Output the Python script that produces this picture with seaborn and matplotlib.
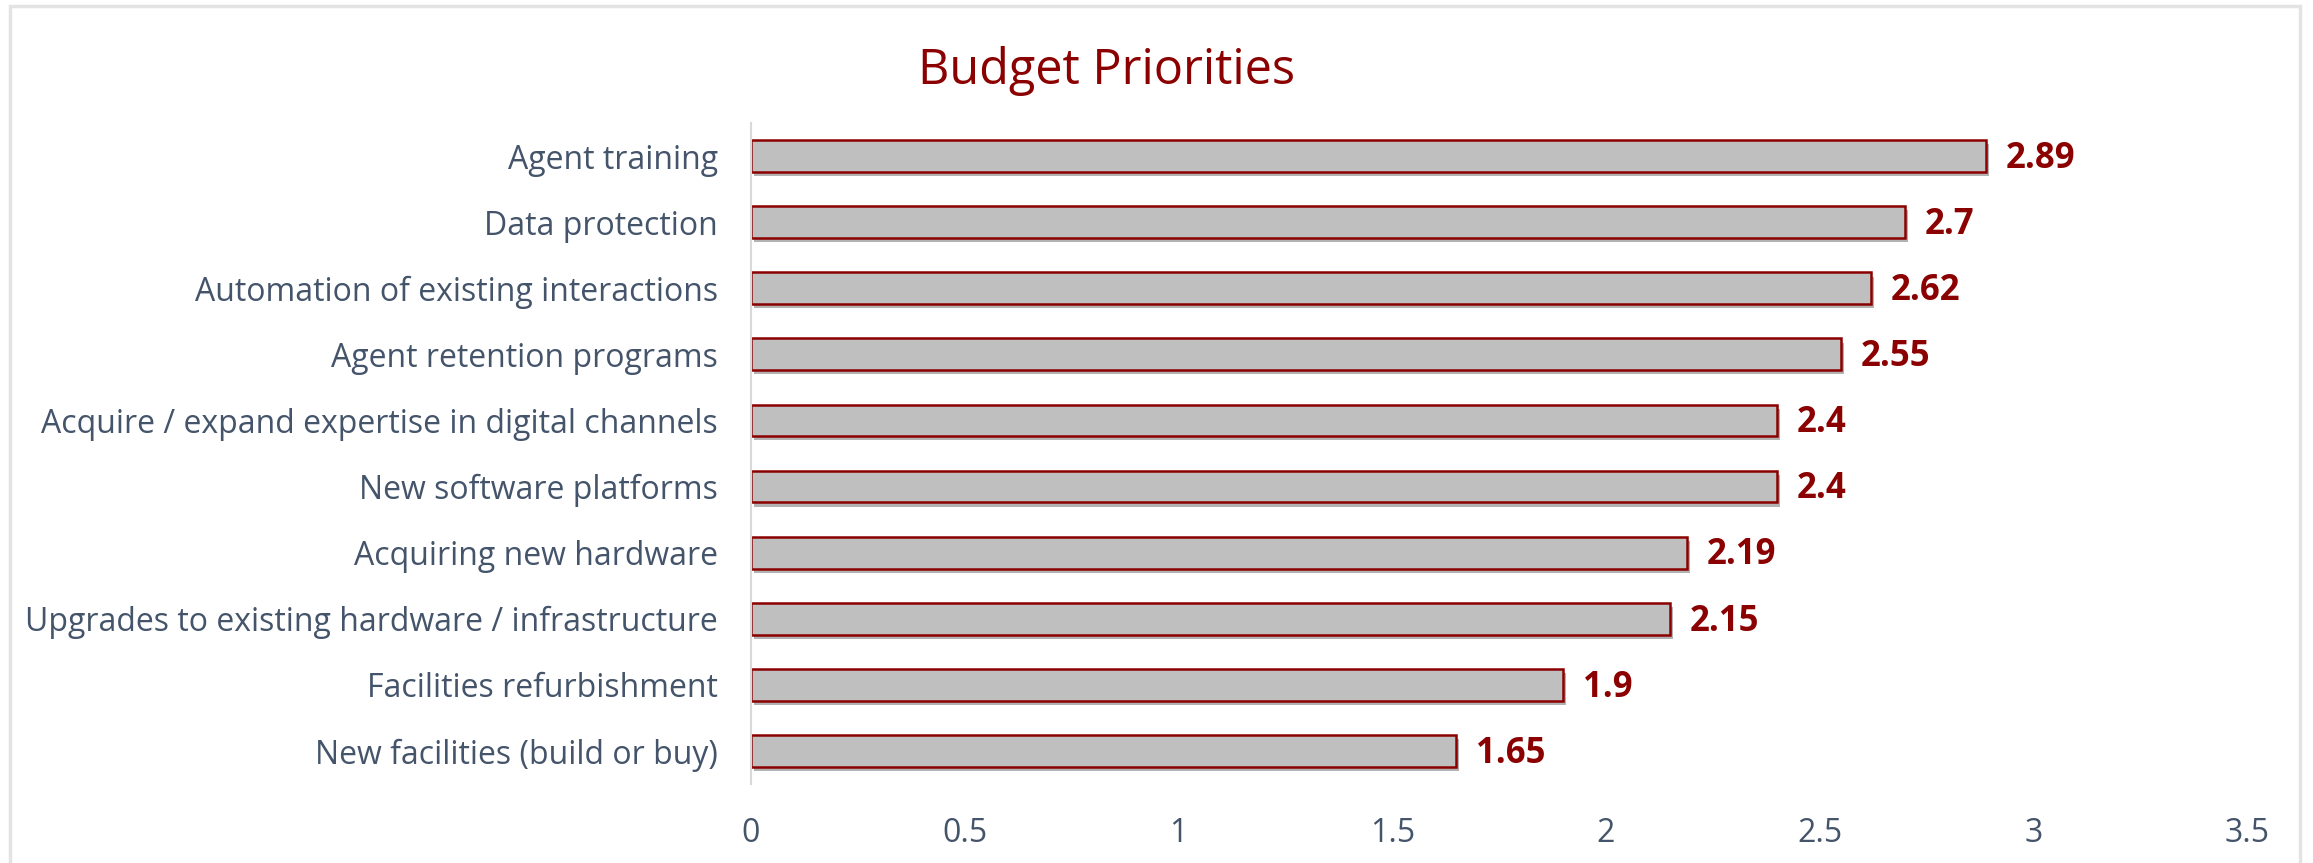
import matplotlib
matplotlib.use("Agg")
import matplotlib.pyplot as plt
import matplotlib.patheffects as pe
from matplotlib.patches import Rectangle
import seaborn as sns
import pandas as pd

categories = [
    "Agent training",
    "Data protection",
    "Automation of existing interactions",
    "Agent retention programs",
    "Acquire / expand expertise in digital channels",
    "New software platforms",
    "Acquiring new hardware",
    "Upgrades to existing hardware / infrastructure",
    "Facilities refurbishment",
    "New facilities (build or buy)",
]
values = [2.89, 2.7, 2.62, 2.55, 2.4, 2.4, 2.19, 2.15, 1.9, 1.65]
value_labels = ["2.89", "2.7", "2.62", "2.55", "2.4", "2.4", "2.19", "2.15", "1.9", "1.65"]
xticks = [0, 0.5, 1, 1.5, 2, 2.5, 3, 3.5]
xtick_labels = ["0", "0.5", "1", "1.5", "2", "2.5", "3", "3.5"]

df = pd.DataFrame({"category": categories, "value": values})

sns.set_theme(style="white")
plt.rcParams["font.family"] = ["Open Sans", "DejaVu Sans"]

DARKRED = "#8B0000"
TEXT = "#44546A"

fig = plt.figure(figsize=(23.13, 8.63), dpi=100)
ax = fig.add_axes([0.3247, 0.0915, 0.9715 - 0.3247, 0.8575 - 0.0915])

sns.barplot(data=df, x="value", y="category", orient="h", ax=ax,
            color="#BFBFBF", edgecolor=DARKRED, linewidth=1.8,
            width=0.48, saturation=1)

for p in ax.patches:
    p.set_path_effects([pe.SimplePatchShadow(offset=(2, -3), shadow_rgbFace="#000000", alpha=0.3), pe.Normal()])

labels = ax.bar_label(ax.containers[0], labels=value_labels, padding=14,
                      color=DARKRED, fontsize=25, fontweight="bold")
for t in labels:
    t.xyann = (14, -2)

ax.set_xlim(0, 3.5)
ax.set_ylim(9.5, -0.5)
ax.set_xticks(xticks)
ax.set_xticklabels(xtick_labels)
ax.tick_params(axis="x", length=0, pad=24, labelsize=23, labelcolor=TEXT)
ax.tick_params(axis="y", length=0, pad=24, labelsize=23, labelcolor=TEXT)
ax.set_xlabel("")
ax.set_ylabel("")
for s in ["top", "right", "bottom"]:
    ax.spines[s].set_visible(False)
ax.spines["left"].set_color("#D9D9D9")
ax.spines["left"].set_linewidth(1.5)

fig.text(0.4785, 0.918, "Budget Priorities", ha="center", va="center",
         fontsize=35, color=DARKRED)

fig.patches.append(Rectangle((10 / 2313, -0.05), (2300 - 10) / 2313, 1.05 - 6 / 863,
                             transform=fig.transFigure, fill=False,
                             edgecolor="#E3E3E3", linewidth=2.5))

fig.savefig("out.png", dpi=100, facecolor="white")
